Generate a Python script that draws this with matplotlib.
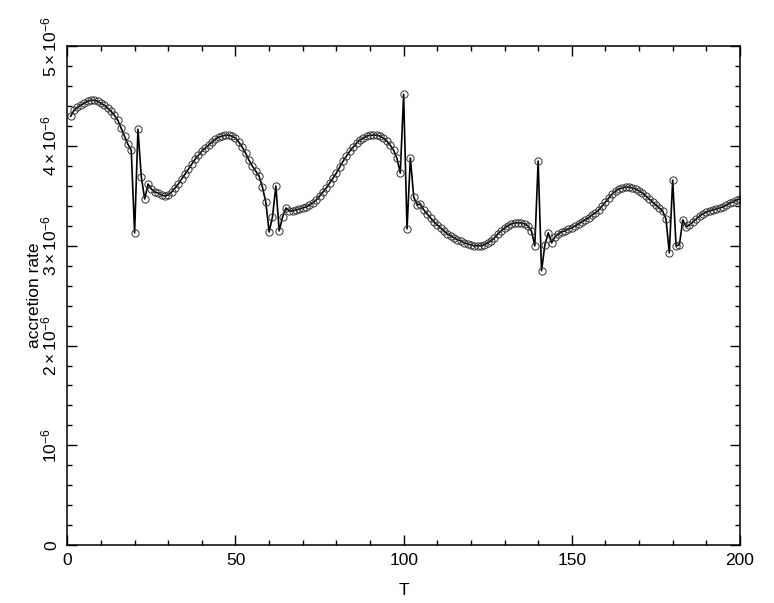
import matplotlib
matplotlib.use("Agg")
import matplotlib.pyplot as plt
import numpy as np

T = list(range(1, 201))
rate = [
    4.30, 4.36, 4.39, 4.41, 4.43, 4.45, 4.46, 4.46, 4.45, 4.43,   # 1-10
    4.41, 4.38, 4.35, 4.31, 4.26, 4.18, 4.10, 4.02, 3.96, 3.13,   # 11-20
    4.17, 3.69, 3.47, 3.62, 3.57, 3.54, 3.53, 3.51, 3.50, 3.51,   # 21-30
    3.54, 3.58, 3.62, 3.67, 3.72, 3.77, 3.82, 3.87, 3.91, 3.95,   # 31-40
    3.98, 4.01, 4.04, 4.07, 4.09, 4.10, 4.11, 4.11, 4.10, 4.08,   # 41-50
    4.04, 3.99, 3.93, 3.86, 3.80, 3.75, 3.70, 3.59, 3.44, 3.14,   # 51-60
    3.29, 3.60, 3.15, 3.29, 3.38, 3.35, 3.35, 3.36, 3.37, 3.38,   # 61-70
    3.39, 3.41, 3.43, 3.46, 3.50, 3.54, 3.58, 3.63, 3.68, 3.73,   # 71-80
    3.79, 3.85, 3.90, 3.95, 3.99, 4.03, 4.06, 4.08, 4.10, 4.11,   # 81-90
    4.11, 4.11, 4.10, 4.08, 4.05, 4.01, 3.96, 3.88, 3.73, 4.52,   # 91-100
    3.17, 3.88, 3.49, 3.41, 3.42, 3.36, 3.32, 3.28, 3.24, 3.21,   # 101-110
    3.18, 3.15, 3.12, 3.10, 3.08, 3.06, 3.05, 3.03, 3.02, 3.01,   # 111-120
    3.00, 3.00, 3.00, 3.01, 3.03, 3.05, 3.08, 3.12, 3.15, 3.18,   # 121-130
    3.20, 3.22, 3.23, 3.23, 3.23, 3.22, 3.20, 3.15, 3.00, 3.85,   # 131-140
    2.75, 3.01, 3.13, 3.03, 3.09, 3.12, 3.14, 3.15, 3.17, 3.18,   # 141-150
    3.20, 3.22, 3.24, 3.26, 3.28, 3.31, 3.33, 3.36, 3.40, 3.44,   # 151-160
    3.48, 3.52, 3.55, 3.57, 3.58, 3.59, 3.59, 3.58, 3.57, 3.55,   # 161-170
    3.53, 3.50, 3.47, 3.44, 3.41, 3.38, 3.35, 3.27, 2.93, 3.66,   # 171-180
    3.00, 3.01, 3.26, 3.19, 3.21, 3.24, 3.27, 3.30, 3.32, 3.34,   # 181-190
    3.35, 3.36, 3.37, 3.38, 3.39, 3.41, 3.43, 3.44, 3.46, 3.47,   # 191-200
]
rate = [r * 1e-6 for r in rate]

y_ticks = [0, 1e-6, 2e-6, 3e-6, 4e-6, 5e-6]
y_ticklabels = ["0", r"$10^{-6}$", r"$2\times10^{-6}$", r"$3\times10^{-6}$",
                r"$4\times10^{-6}$", r"$5\times10^{-6}$"]
x_ticks = [0, 50, 100, 150, 200]

plt.rcParams['font.family'] = ['Liberation Sans', 'DejaVu Sans']
plt.rcParams['mathtext.fontset'] = 'custom'
plt.rcParams['mathtext.rm'] = 'Liberation Sans'
plt.rcParams['mathtext.it'] = 'Liberation Sans'

fig = plt.figure(figsize=(7.74, 6.03), dpi=100)
ax = fig.add_axes([0.087, 0.0962, 0.869, 0.8268])

ax.plot(T, rate, color='black', linewidth=1.2,
        marker='o', markersize=5.2, markerfacecolor='none',
        markeredgecolor='#333333', markeredgewidth=0.7)

ax.set_xlim(0, 200)
ax.set_ylim(0, 5e-6)
ax.set_xticks(x_ticks)
ax.set_xticks(list(range(0, 201, 10)), minor=True)
ax.set_yticks(y_ticks)
ax.set_yticklabels(y_ticklabels, rotation=90, va='center')
ax.set_yticks([i * 2e-7 for i in range(26)], minor=True)

ax.tick_params(which='both', direction='in', top=True, right=True,
               labelsize=12.5, width=1.0)
ax.tick_params(which='major', length=7, pad=6)
ax.tick_params(which='minor', length=3.5)
for s in ax.spines.values():
    s.set_linewidth(1.1)

ax.set_xlabel("T", fontsize=12.5)
ax.xaxis.set_label_coords(0.5, -0.076)
ax.set_ylabel("accretion rate", fontsize=12.5)
ax.yaxis.set_label_coords(-0.037, 0.5)

fig.savefig("out.png", dpi=100)
